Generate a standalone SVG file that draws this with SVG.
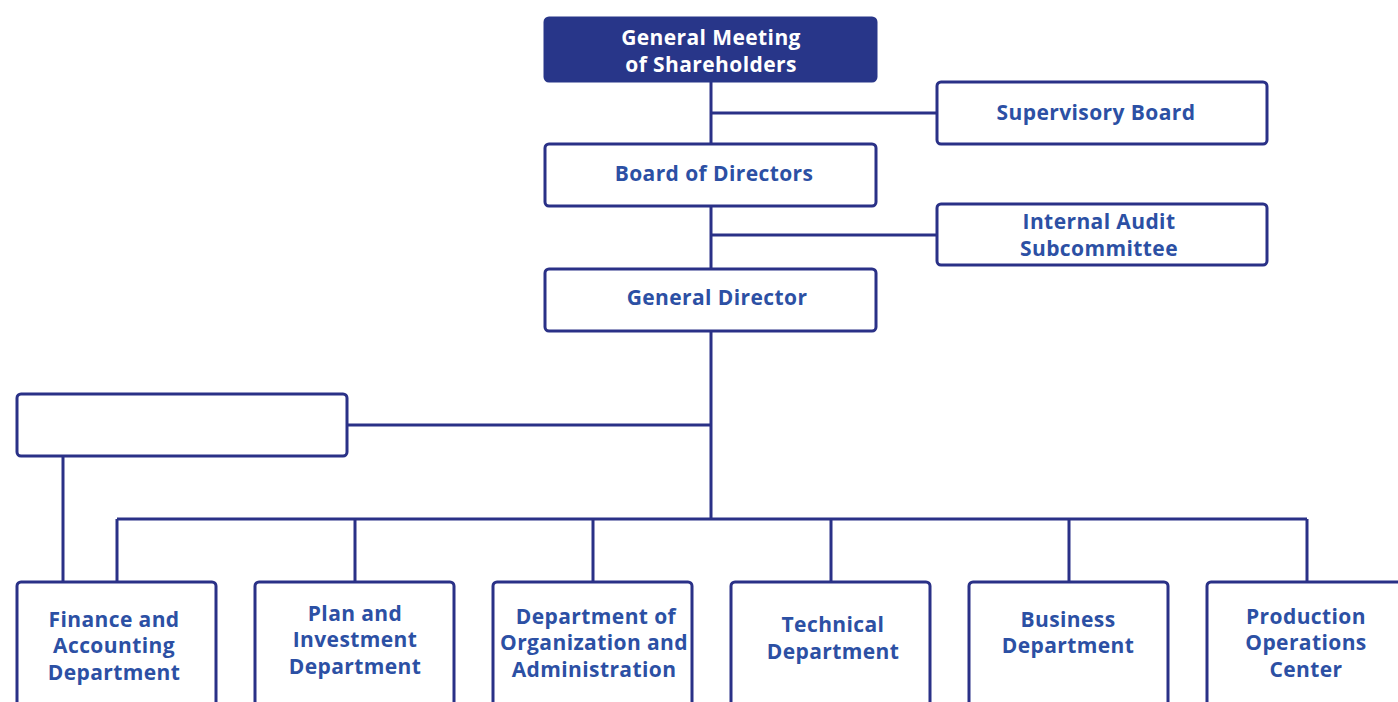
<svg xmlns="http://www.w3.org/2000/svg" width="1398" height="702" viewBox="0 0 1398 702">
  <style>
    .box { fill: #ffffff; stroke: #2a3187; stroke-width: 3; }
    .head { fill: #283689; stroke: #283689; stroke-width: 3; }
    .lbl { font-family: "Open Sans", "Liberation Sans", sans-serif; font-weight: 700; font-size: 21px; letter-spacing: 0.4px; fill: #2c50a4; text-anchor: middle; }
    .lbl-w { fill: #ffffff; }
    .wire { fill: none; stroke: #2a3187; stroke-width: 3; }
  </style>
  <rect width="1398" height="702" fill="#ffffff"/>

  <g id="connectors">
    <path class="wire" d="M711 81 V519"/>
    <path class="wire" d="M711 113 H937"/>
    <path class="wire" d="M711 235 H937"/>
    <path class="wire" d="M347 425 H711"/>
    <path class="wire" d="M117 519 H1307"/>
    <path class="wire" d="M117 519 V582 M355 519 V582 M593 519 V582 M831 519 V582 M1069 519 V582 M1307 519 V582"/>
    <path class="wire" d="M63 456 V582"/>
  </g>

  <g id="general-meeting">
    <rect class="head" x="545" y="18" width="331" height="63" rx="4"/>
    <text class="lbl lbl-w" x="711" y="45">General Meeting</text>
    <text class="lbl lbl-w" x="711" y="72">of Shareholders</text>
  </g>

  <g id="supervisory-board">
    <rect class="box" x="937" y="82" width="330" height="62" rx="4"/>
    <text class="lbl" x="1096" y="120">Supervisory Board</text>
  </g>

  <g id="board-of-directors">
    <rect class="box" x="545" y="144" width="331" height="62" rx="4"/>
    <text class="lbl" x="714" y="181">Board of Directors</text>
  </g>

  <g id="internal-audit">
    <rect class="box" x="937" y="204" width="330" height="61" rx="4"/>
    <text class="lbl" x="1099" y="229">Internal Audit</text>
    <text class="lbl" x="1099" y="256">Subcommittee</text>
  </g>

  <g id="general-director">
    <rect class="box" x="545" y="269" width="331" height="62" rx="4"/>
    <text class="lbl" x="717" y="305">General Director</text>
  </g>

  <g id="blank-unit">
    <rect class="box" x="17" y="394" width="330" height="62" rx="4"/>
  </g>

  <g id="finance">
    <rect class="box" x="17" y="582" width="199" height="140" rx="4"/>
    <text class="lbl" x="114" y="627">Finance and</text>
    <text class="lbl" x="114" y="653">Accounting</text>
    <text class="lbl" x="114" y="680">Department</text>
  </g>

  <g id="plan-investment">
    <rect class="box" x="255" y="582" width="199" height="140" rx="4"/>
    <text class="lbl" x="355" y="621">Plan and</text>
    <text class="lbl" x="355" y="647">Investment</text>
    <text class="lbl" x="355" y="674">Department</text>
  </g>

  <g id="organization-administration">
    <rect class="box" x="493" y="582" width="199" height="140" rx="4"/>
    <text class="lbl" x="596" y="624">Department of</text>
    <text class="lbl" x="594" y="650">Organization and</text>
    <text class="lbl" x="594" y="677">Administration</text>
  </g>

  <g id="technical">
    <rect class="box" x="731" y="582" width="199" height="140" rx="4"/>
    <text class="lbl" x="833" y="632">Technical</text>
    <text class="lbl" x="833" y="659">Department</text>
  </g>

  <g id="business">
    <rect class="box" x="969" y="582" width="199" height="140" rx="4"/>
    <text class="lbl" x="1068" y="627">Business</text>
    <text class="lbl" x="1068" y="653">Department</text>
  </g>

  <g id="production-operations">
    <rect class="box" x="1207" y="582" width="199" height="140" rx="4"/>
    <text class="lbl" x="1306" y="624">Production</text>
    <text class="lbl" x="1306" y="650">Operations</text>
    <text class="lbl" x="1306" y="677">Center</text>
  </g>
</svg>
